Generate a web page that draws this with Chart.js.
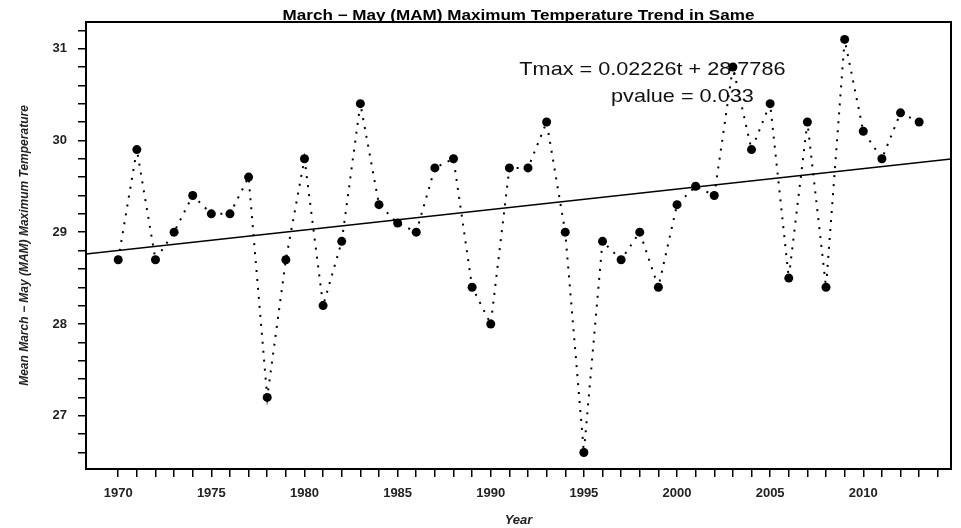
<!DOCTYPE html>
<html>
<head>
<meta charset="utf-8">
<script src="https://cdn.jsdelivr.net/npm/chart.js@4"></script>
<style>
  html, body { margin: 0; padding: 0; background: #fff; }
  canvas { display: block; }
</style>
</head>
<body>
<canvas id="tempChart" width="961" height="528"></canvas>
<script>
// MAM maximum temperature, one value per year
const years = [1970, 1971, 1972, 1973, 1974, 1975, 1976, 1977, 1978, 1979,
               1980, 1981, 1982, 1983, 1984, 1985, 1986, 1987, 1988, 1989,
               1990, 1991, 1992, 1993, 1994, 1995, 1996, 1997, 1998, 1999,
               2000, 2001, 2002, 2003, 2004, 2005, 2006, 2007, 2008, 2009,
               2010, 2011, 2012, 2013];
const tmax = [28.7, 29.9, 28.7, 29.0, 29.4, 29.2, 29.2, 29.6, 27.2, 28.7,
              29.8, 28.2, 28.9, 30.4, 29.3, 29.1, 29.0, 29.7, 29.8, 28.4,
              28.0, 29.7, 29.7, 30.2, 29.0, 26.6, 28.9, 28.7, 29.0, 28.4,
              29.3, 29.5, 29.4, 30.8, 29.9, 30.4, 28.5, 30.2, 28.4, 31.1,
              30.1, 29.8, 30.3, 30.2];

const xLabelYears = [1970, 1975, 1980, 1985, 1990, 1995, 2000, 2005, 2010];
const yLabels = [27, 28, 29, 30, 31];

// fitted trend: Tmax = slope * t + intercept, t = year - 1969
const trendSlope = 0.02226;
const trendIntercept = 28.7786;
const trendBaseYear = 1969;
const pValue = 0.033;

const xMin = 1968.27, xMax = 2014.71;
const yMin = 26.42, yMax = 31.29;

const FONT = '"Liberation Sans", Arial, Helvetica, sans-serif';

const points = years.map((y, i) => ({ x: y, y: tmax[i] }));
const trendAt = yr => trendSlope * (yr - trendBaseYear) + trendIntercept;
const trendLine = [{ x: xMin, y: trendAt(xMin) }, { x: xMax, y: trendAt(xMax) }];

// every year gets a tick mark, every 0.2 degree on the y axis
const xTickValues = [];
for (let yr = 1970; yr <= 2014; yr++) xTickValues.push(yr);
const yTickValues = [];
for (let i = 133; i <= 156; i++) yTickValues.push(i / 5);

// the original picture is a little wider than tall, so stretch the drawn texts
function wideText(ctx, text, x, y, stretch) {
    ctx.save();
    ctx.translate(x, y);
    ctx.scale(stretch, 1);
    ctx.fillText(text, 0, 0);
    ctx.restore();
}

const decorations = {
    id: 'decorations',
    beforeDatasetsDraw(chart) {
        const { ctx, scales: { x, y } } = chart;
        ctx.save();
        ctx.fillStyle = '#111';
        ctx.font = `19px ${FONT}`;
        ctx.textAlign = 'center';
        ctx.textBaseline = 'middle';
        wideText(ctx, `Tmax = ${trendSlope}t + ${trendIntercept}`,
            x.getPixelForValue(1998.68), y.getPixelForValue(30.775), 1.14);
        wideText(ctx, `pvalue = ${pValue}`,
            x.getPixelForValue(2000.29), y.getPixelForValue(30.48), 1.14);
        ctx.restore();
    },
    afterDraw(chart) {
        const { ctx, chartArea: a } = chart;
        ctx.save();
        ctx.strokeStyle = '#000';
        ctx.lineWidth = 2;
        ctx.strokeRect(a.left, a.top, a.right - a.left, a.bottom - a.top);
        ctx.fillStyle = '#000';
        ctx.font = `bold 14px ${FONT}`;
        ctx.textAlign = 'center';
        ctx.textBaseline = 'alphabetic';
        wideText(ctx, 'March \u2212 May (MAM) Maximum Temperature Trend in Same',
            (a.left + a.right) / 2, 19.5, 1.22);
        ctx.restore();
    }
};

const chart = new Chart(document.getElementById('tempChart'), {
    type: 'line',
    data: {
        datasets: [{
            label: 'Trend',
            data: trendLine,
            borderColor: '#000',
            borderWidth: 1.5,
            pointRadius: 0,
            order: 2
        }, {
            label: 'MAM Tmax',
            data: points,
            borderColor: '#000',
            borderWidth: 2,
            borderDash: [2, 7],
            pointRadius: 4.5,
            pointBackgroundColor: '#000',
            pointBorderColor: '#000',
            pointBorderWidth: 0,
            tension: 0,
            order: 1
        }]
    },
    options: {
        responsive: false,
        animation: false,
        devicePixelRatio: 1,
        layout: { padding: { top: 22, right: 10, left: 0, bottom: 0 } },
        plugins: {
            legend: { display: false },
            title: { display: false },
            tooltip: { enabled: false }
        },
        scales: {
            x: {
                type: 'linear',
                position: 'bottom',
                min: xMin,
                max: xMax,
                afterBuildTicks: scale => { scale.ticks = xTickValues.map(v => ({ value: v })); },
                afterFit: scale => { scale.height = 59; },
                ticks: {
                    autoSkip: false,
                    maxRotation: 0,
                    padding: 9,
                    color: '#222',
                    font: { family: FONT, size: 13, weight: 'bold' },
                    callback: v => xLabelYears.includes(v) ? String(v) : ''
                },
                grid: { drawOnChartArea: false, tickLength: 8, color: '#000', lineWidth: 1.5 },
                border: { color: '#000', width: 2 },
                title: {
                    display: true,
                    text: 'Year',
                    color: '#222',
                    padding: { top: 0, bottom: 0 },
                    font: { family: FONT, size: 13, weight: 'bold', style: 'italic' }
                }
            },
            y: {
                type: 'linear',
                min: yMin,
                max: yMax,
                afterBuildTicks: scale => { scale.ticks = yTickValues.map(v => ({ value: v })); },
                afterFit: scale => { scale.width = 86; },
                ticks: {
                    autoSkip: false,
                    padding: 11,
                    color: '#222',
                    font: { family: FONT, size: 13, weight: 'bold' },
                    callback: v => yLabels.includes(v) ? String(v) : ''
                },
                grid: { drawOnChartArea: false, tickLength: 8, color: '#000', lineWidth: 1.5 },
                border: { color: '#000', width: 2 },
                title: {
                    display: true,
                    text: 'Mean March \u2212 May (MAM) Maximum Temperature',
                    color: '#222',
                    padding: { top: 17, bottom: 0 },
                    font: { family: FONT, size: 12, weight: 'bold', style: 'italic' }
                }
            }
        }
    },
    plugins: [decorations]
});
</script>
</body>
</html>
